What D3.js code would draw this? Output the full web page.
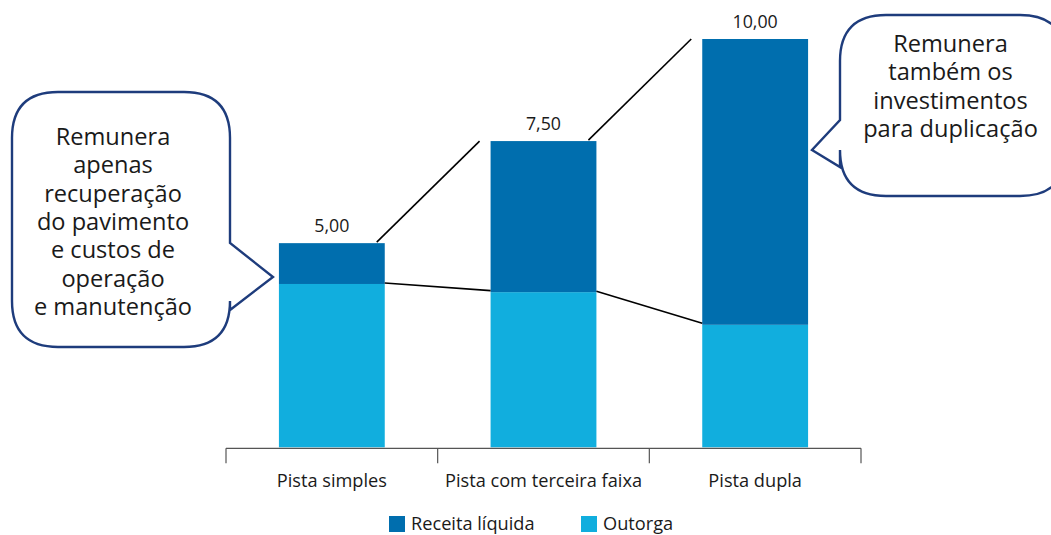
<!DOCTYPE html>
<html>
<head>
<meta charset="utf-8">
<script src="https://cdn.jsdelivr.net/npm/d3@7"></script>
<style>
  html, body { margin: 0; padding: 0; background: #fff; }
  svg { display: block; font-family: "Open Sans", "Noto Sans", sans-serif; }
</style>
</head>
<body>
<svg id="chart" width="1051" height="535"></svg>
<script>
// ---- data ----
const categories = ["Pista simples", "Pista com terceira faixa", "Pista dupla"];
const outorga = [4.0, 3.8, 3.0];
const receitaLiquida = [1.0, 3.7, 7.0];
const totalLabels = ["5,00", "7,50", "10,00"];
const seriesNames = ["Receita líquida", "Outorga"];
const calloutLeft = ["Remunera", "apenas", "recuperação", "do pavimento", "e custos de", "operação", "e manutenção"];
const calloutRight = ["Remunera", "também os", "investimentos", "para duplicação"];

// ---- styles ----
const colDark = "#006eae";
const colLight = "#11aede";
const navy = "#1e3c7c";
const textCol = "#1a1a1a";

const svg = d3.select("#chart");

const x = d3.scaleBand().domain(categories).range([226, 861]).paddingInner(0.5).paddingOuter(0.25);
const y = d3.scaleLinear().domain([0, 10]).range([447.3, 39]);
const bw = x.bandwidth();

const rows = categories.map((c, i) => ({
  cat: c, out: outorga[i], rec: receitaLiquida[i], total: outorga[i] + receitaLiquida[i], label: totalLabels[i]
}));

// bars
const g = svg.append("g");
g.selectAll("rect.out").data(rows).join("rect")
  .attr("x", d => x(d.cat)).attr("width", bw)
  .attr("y", d => y(d.out)).attr("height", d => y(0) - y(d.out))
  .attr("fill", colLight);
g.selectAll("rect.rec").data(rows).join("rect")
  .attr("x", d => x(d.cat)).attr("width", bw)
  .attr("y", d => y(d.total)).attr("height", d => y(d.out) - y(d.total))
  .attr("fill", colDark);

// value labels
g.selectAll("text.val").data(rows).join("text")
  .attr("x", d => x(d.cat) + bw / 2).attr("y", d => y(d.total) - 11)
  .attr("text-anchor", "middle").attr("font-size", 17.8).attr("fill", textCol)
  .text(d => d.label);

// connecting lines
for (let i = 0; i < rows.length - 1; i++) {
  const a = rows[i], b = rows[i + 1];
  g.append("line")
    .attr("x1", x(a.cat) + bw - 8).attr("y1", y(a.total) - 1)
    .attr("x2", x(b.cat) - 11).attr("y2", y(b.total))
    .attr("stroke", "#000").attr("stroke-width", 1.6);
  g.append("line")
    .attr("x1", x(a.cat) + bw).attr("y1", y(a.out) - 1)
    .attr("x2", x(b.cat)).attr("y2", y(b.out) - 1.5)
    .attr("stroke", "#000").attr("stroke-width", 1.6);
}

// axis
const ax = svg.append("g");
const left = x.range()[0], right = x.range()[1];
const axY = 448.3;
ax.append("line").attr("x1", left).attr("x2", right).attr("y1", axY).attr("y2", axY)
  .attr("stroke", "#555").attr("stroke-width", 1.2);
const bounds = d3.range(categories.length + 1).map(i => left + i * (right - left) / categories.length);
ax.selectAll("line.tick").data(bounds).join("line")
  .attr("x1", d => d).attr("x2", d => d).attr("y1", axY).attr("y2", axY + 15)
  .attr("stroke", "#555").attr("stroke-width", 1.2);
ax.selectAll("text.cat").data(categories).join("text")
  .attr("x", d => x(d) + bw / 2).attr("y", 487)
  .attr("text-anchor", "middle").attr("font-size", 18.2).attr("fill", textCol)
  .text(d => d);

// legend
const legendColors = [colDark, colLight];
const legendX = [389, 581];
const lg = svg.append("g");
seriesNames.forEach((n, i) => {
  lg.append("rect").attr("x", legendX[i]).attr("y", 516).attr("width", 16).attr("height", 16).attr("fill", legendColors[i]);
  lg.append("text").attr("x", legendX[i] + 22).attr("y", 529.5)
    .attr("font-size", 18.2).attr("fill", textCol).text(n);
});

// callouts
function bubble(x0, y0, x1, y1, r, side, p1, tip, p2) {
  const p = d3.path();
  p.moveTo(x0 + r, y0);
  p.lineTo(x1 - r, y0);
  p.quadraticCurveTo(x1, y0, x1, y0 + r);
  if (side === "right") { p.lineTo(x1, p1); p.lineTo(tip[0], tip[1]); p.lineTo(x1, p2); }
  p.lineTo(x1, y1 - r);
  p.quadraticCurveTo(x1, y1, x1 - r, y1);
  p.lineTo(x0 + r, y1);
  p.quadraticCurveTo(x0, y1, x0, y1 - r);
  if (side === "left") { p.lineTo(x0, p2); p.lineTo(tip[0], tip[1]); p.lineTo(x0, p1); }
  p.lineTo(x0, y0 + r);
  p.quadraticCurveTo(x0, y0, x0 + r, y0);
  p.closePath();
  return p.toString();
}
svg.append("path")
  .attr("d", bubble(12, 92, 230, 347, 46, "right", 243, [273, 277], 310))
  .attr("fill", "#fff").attr("stroke", navy).attr("stroke-width", 2.4);
svg.append("path")
  .attr("d", bubble(840, 15, 1066, 196, 46, "left", 120, [812, 150], 167))
  .attr("fill", "#fff").attr("stroke", navy).attr("stroke-width", 2.4);

function calloutText(lines, cx, firstBaseline, lh) {
  const t = svg.append("text").attr("text-anchor", "middle").attr("font-size", 23.6).attr("fill", textCol);
  lines.forEach((l, i) => t.append("tspan").attr("x", cx).attr("y", firstBaseline + i * lh).text(l));
}
calloutText(calloutLeft, 113, 145, 28.3);
calloutText(calloutRight, 950.5, 52, 28.3);
</script>
</body>
</html>
